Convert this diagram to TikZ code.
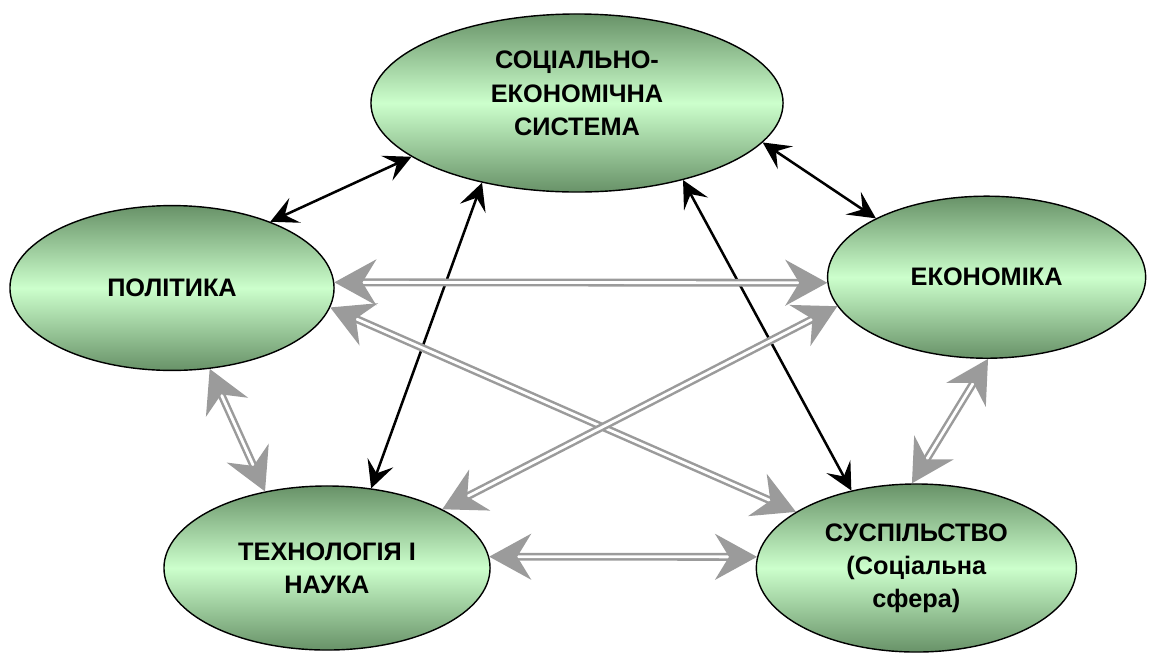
\documentclass[tikz,border=0pt]{standalone}
\usepackage{fontspec}
\setmainfont{Liberation Sans}
\usetikzlibrary{positioning,arrows.meta,shapes.geometric}
\definecolor{ovaldark}{RGB}{104,146,104}
\definecolor{ovallight}{RGB}{204,255,204}
\definecolor{linkgray}{RGB}{155,155,155}

\begin{document}
\begin{tikzpicture}[x=0.025cm,y=-0.025cm,
  oval/.style={ellipse,draw=black,line width=1pt,top color=ovaldark,bottom color=ovaldark,
    middle color=ovallight,inner sep=0pt,align=center,
    font=\fontsize{18}{23.5}\selectfont\bfseries},
  link/.style={line width=1.8pt,
    {Stealth[length=0.68cm,width=0.68cm,inset=0.28cm]}-{Stealth[length=0.68cm,width=0.68cm,inset=0.28cm]}},
  grlink/.style={draw=linkgray,double=white,double distance=2pt,line width=1.8pt,
    {Stealth[length=1.05cm,width=1.15cm,inset=0.35cm]}-{Stealth[length=1.05cm,width=1.15cm,inset=0.35cm]}}]
\useasboundingbox (0,0) rectangle (1154,653);

\node[oval,minimum width=10.3cm,minimum height=4.45cm,text depth=14pt] (soc) at (577,103) {СОЦІАЛЬНО-\\ЕКОНОМІЧНА\\СИСТЕМА};
\node[oval,minimum width=8.1cm,minimum height=4.12cm] (pol) at (172,288) {ПОЛІТИКА};
\node[oval,minimum width=7.95cm,minimum height=4.05cm,right=12.3cm of pol,yshift=0.27cm] (eko) {ЕКОНОМІКА};
\node[oval,minimum width=8.15cm,minimum height=4.1cm] (tech) at (327,568) {ТЕХНОЛОГІЯ І\\НАУКА};
\node[oval,minimum width=8cm,minimum height=4.2cm,right=6.62cm of tech] (susp) {СУСПІЛЬСТВО\\(Соціальна\\сфера)};

% zv'yazky z systemoyu
\draw[link] (pol.34) -- (soc.198);
\draw[link] (soc.-12) -- (eko.152);
\draw[link] (soc.220) -- (tech.61);
\draw[link] (soc.-36) -- (susp.130);

% mizh sferamy
\draw[grlink] (pol.2) -- (eko.182);
\draw[grlink] (pol.-7) -- (susp.155);
\draw[grlink] (eko.191) -- (tech.27);
\draw[grlink] (pol.-65) -- (tech.129);
\draw[grlink] (eko.-89) -- (susp.93);
\draw[grlink] (tech.4) -- (susp.176);
\end{tikzpicture}
\end{document}
